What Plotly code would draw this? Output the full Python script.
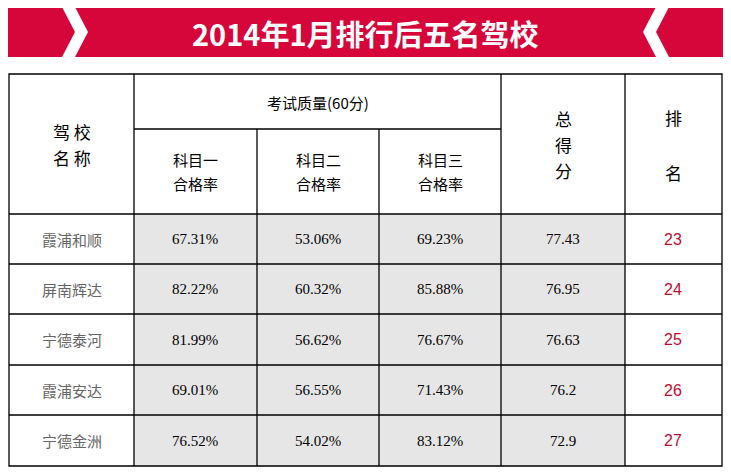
import plotly.graph_objects as go

title = "2014年1月排行后五名驾校"
schools = ["霞浦和顺", "屏南辉达", "宁德泰河", "霞浦安达", "宁德金洲"]
k1 = ["67.31%", "82.22%", "81.99%", "69.01%", "76.52%"]
k2 = ["53.06%", "60.32%", "56.62%", "56.55%", "54.02%"]
k3 = ["69.23%", "85.88%", "76.67%", "71.43%", "83.12%"]
total = ["77.43", "76.95", "76.63", "76.2", "72.9"]
rank = ["23", "24", "25", "26", "27"]

W, H = 731, 474
OFF = 8  # page body margin
RED = "#D7063A"
xs = [9, 134, 257, 379, 501, 625, 722]
ys = [214, 264, 314, 365, 415, 466]
top, mid = 74, 129

fig = go.Figure(go.Scatter(x=[100], y=[100], mode="markers", marker=dict(opacity=0), hoverinfo="skip"))
shapes, ann = [], []

shapes.append(dict(type="rect", x0=8, x1=723, y0=7, y1=57, fillcolor=RED, line_width=0, layer="below"))
for pts in ["M 62 7 L 75 7 L 88 32 L 75 57 L 62 57 L 75 32 Z",
            "M 669 7 L 656 7 L 643 32 L 656 57 L 669 57 L 656 32 Z"]:
    shapes.append(dict(type="path", path=pts, fillcolor="white", line_width=0))
ann.append(dict(x=365, y=33, text="<b>" + title + "</b>", showarrow=False,
                font=dict(family="Noto Sans CJK SC", size=29, color="white")))

for i in range(5):
    shapes.append(dict(type="rect", x0=xs[1], x1=xs[5], y0=ys[i], y1=ys[i + 1],
                       fillcolor="#E6E6E6", line_width=0, layer="below"))
L = dict(color="black", width=1.3)
shapes.append(dict(type="rect", x0=xs[0], x1=xs[-1], y0=top, y1=ys[-1], line=L))
for x in xs[1:-1]:
    y0 = mid if x in (257, 379) else top
    shapes.append(dict(type="line", x0=x, x1=x, y0=y0, y1=ys[-1], line=L))
shapes.append(dict(type="line", x0=xs[1], x1=xs[4], y0=mid, y1=mid, line=L))
for y in ys[:-1]:
    shapes.append(dict(type="line", x0=xs[0], x1=xs[-1], y0=y, y1=y, line=L))

hf = dict(family="Noto Sans CJK SC", size=15, color="black")
def a(x, y, t, f):
    ann.append(dict(x=x, y=y, text=t, showarrow=False, font=f))
a(72, 131, "驾 校", dict(hf, size=17))
a(72, 157, "名 称", dict(hf, size=17))
a(318, 102, "考试质量(60分)", hf)
for c, t in zip([195, 318, 440], ["科目一", "科目二", "科目三"]):
    a(c, 159, t, hf)
    a(c, 183, "合格率", hf)
a(563, 118, "总", dict(hf, size=17))
a(563, 144, "得", dict(hf, size=17))
a(563, 170, "分", dict(hf, size=17))
a(673, 117, "排", dict(hf, size=17))
a(673, 172, "名", dict(hf, size=17))

sf = dict(family="Liberation Serif", size=15, color="black")
for i in range(5):
    yc = (ys[i] + ys[i + 1]) / 2
    a(72, yc, schools[i], dict(hf, size=15, color="#666666"))
    a(195, yc, k1[i], sf)
    a(318, yc, k2[i], sf)
    a(440, yc, k3[i], sf)
    a(563, yc, total[i], sf)
    a(673, yc, rank[i], dict(family="Liberation Sans", size=16, color="#C00A2E"))

fig.update_layout(width=W - OFF, height=H - OFF, margin=dict(l=0, r=0, t=0, b=0),
                  paper_bgcolor="white", plot_bgcolor="white", showlegend=False,
                  xaxis=dict(range=[OFF, W], visible=False, fixedrange=True),
                  yaxis=dict(range=[H, OFF], visible=False, fixedrange=True),
                  shapes=shapes, annotations=ann)
fig.write_html("out.html")
